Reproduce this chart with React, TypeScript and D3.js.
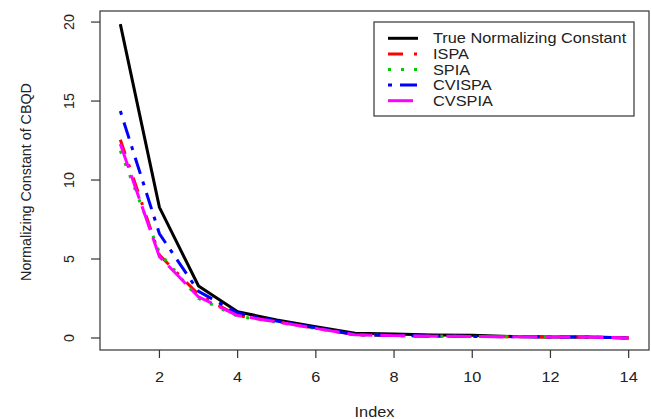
import * as React from 'react'
import * as d3 from 'd3'

// index 1..14
const idx = d3.range(1, 15)
const trueVals = [19.87, 8.27, 3.29, 1.66, 1.14, 0.72, 0.3, 0.25, 0.19, 0.17, 0.1, 0.07, 0.06, 0.0]
const ispaVals = [12.55, 5.25, 2.75, 1.42, 1.03, 0.62, 0.2, 0.15, 0.11, 0.1, 0.08, 0.07, 0.06, 0.0]
const spiaVals = [11.85, 5.4, 2.5, 1.38, 1.0, 0.6, 0.19, 0.15, 0.11, 0.1, 0.08, 0.07, 0.06, 0.0]
const cvispaVals = [14.37, 6.6, 2.95, 1.58, 1.07, 0.64, 0.22, 0.16, 0.12, 0.1, 0.08, 0.07, 0.06, 0.01]
const cvspiaVals = [12.28, 5.15, 2.6, 1.42, 1.02, 0.61, 0.2, 0.15, 0.11, 0.1, 0.08, 0.07, 0.06, 0.0]

const seriesNames = ['True Normalizing Constant', 'ISPA', 'SPIA', 'CVISPA', 'CVSPIA']
const xTicks = [2, 4, 6, 8, 10, 12, 14]
const yTicks = [0, 5, 10, 15, 20]

const series = [
  { name: seriesNames[0], values: trueVals, color: '#000000', dash: null },
  { name: seriesNames[1], values: ispaVals, color: '#ff0000', dash: '15,11,3,11' },
  { name: seriesNames[2], values: spiaVals, color: '#00cd00', dash: '3,10' },
  { name: seriesNames[3], values: cvispaVals, color: '#0000ff', dash: '4,8,17,8' },
  { name: seriesNames[4], values: cvspiaVals, color: '#ff00ff', dash: '25,8' },
]

const W = 651
const H = 419
const box = { left: 100, right: 649, top: 11, bottom: 350 }
const font = 'Liberation Sans, Arial, sans-serif'
const fs = 14.3
const sx = 1.14
const ink = '#222'

export default function App() {
  const x = d3.scaleLinear().domain([0.48, 14.52]).range([box.left, box.right])
  const y = d3.scaleLinear().domain([-0.76, 20.7]).range([box.bottom, box.top])

  const line = d3.line<number>()
    .x((_, i) => x(idx[i]))
    .y(d => y(d))

  const leg = { left: 374, top: 22, right: 634, bottom: 116 }
  const rowY = (i: number) => 38.3 + i * 15.6

  return (
    <svg width={W} height={H} style={{ position: 'absolute', left: 0, top: 0, background: '#fff' }}
      fontFamily={font}>
      <rect x={0} y={0} width={W} height={H} fill="#fff" />
      {series.map(s => (
        <path key={s.name} d={line(s.values) || ''} fill="none" stroke={s.color}
          strokeWidth={3} strokeDasharray={s.dash || undefined} strokeLinejoin="round" />
      ))}
      <rect x={box.left} y={box.top} width={box.right - box.left} height={box.bottom - box.top}
        fill="none" stroke="#333" strokeWidth={1.2} />

      {xTicks.map(t => (
        <g key={'x' + t}>
          <line x1={x(t)} x2={x(t)} y1={box.bottom} y2={box.bottom + 8} stroke="#333" strokeWidth={1.2} />
          <text transform={`translate(${x(t)},${377}) scale(${sx},1)`} textAnchor="middle"
            dominantBaseline="central" fontSize={fs} fill={ink}>{t}</text>
        </g>
      ))}
      {yTicks.map(t => (
        <g key={'y' + t}>
          <line x1={box.left - 9} x2={box.left} y1={y(t)} y2={y(t)} stroke="#333" strokeWidth={1.2} />
          <text transform={`translate(69,${y(t)}) rotate(-90)`} textAnchor="middle"
            dominantBaseline="central" fontSize={fs} fill={ink}>{t}</text>
        </g>
      ))}

      <text transform={`translate(${(box.left + box.right) / 2},412) scale(${sx},1)`} textAnchor="middle"
        dominantBaseline="central" fontSize={fs} fill={ink}>Index</text>
      <text transform="translate(26,182) rotate(-90)" textAnchor="middle"
        dominantBaseline="central" fontSize={fs} fill={ink}>Normalizing Constant of CBQD</text>

      <rect x={leg.left} y={leg.top} width={leg.right - leg.left} height={leg.bottom - leg.top}
        fill="#fff" stroke="#333" strokeWidth={1.2} />
      {series.map((s, i) => (
        <g key={'l' + s.name}>
          <line x1={388} x2={418} y1={rowY(i)} y2={rowY(i)} stroke={s.color} strokeWidth={3}
            strokeDasharray={s.dash || undefined} />
          <text transform={`translate(433,${rowY(i)}) scale(${sx},1)`} dominantBaseline="central"
            fontSize={fs} fill={ink}>{s.name}</text>
        </g>
      ))}
    </svg>
  )
}
